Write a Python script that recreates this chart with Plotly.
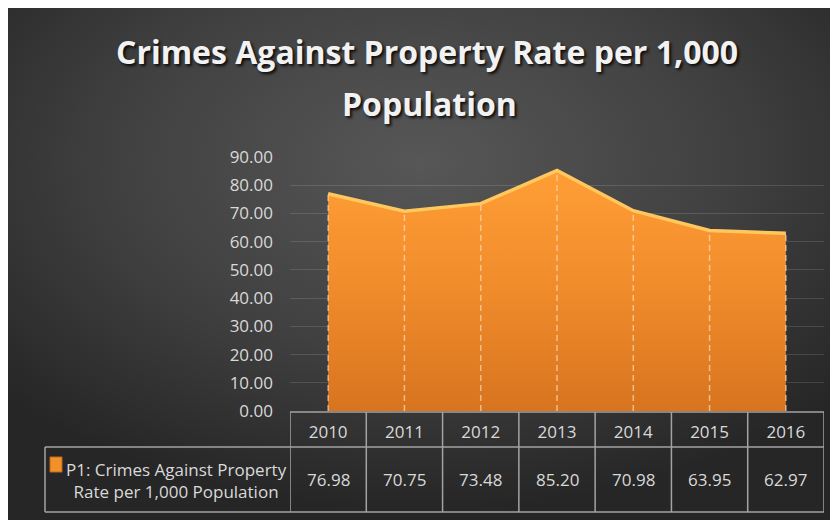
import base64
import plotly.graph_objects as go

# ---------------- data ----------------
years = ["2010", "2011", "2012", "2013", "2014", "2015", "2016"]
values = [76.98, 70.75, 73.48, 85.20, 70.98, 63.95, 62.97]
series_name = "P1: Crimes Against Property<br>Rate per 1,000 Population"
title_line1 = "Crimes Against Property Rate per 1,000"
title_line2 = "Population"
y_max = 90
y_step = 10

# ---------------- geometry (screen pixels of the target) ----------------
W, H = 838, 520
OX, OY = 8, 8          # page body margin offset of the rendered figure
plot_l, plot_r = 290, 824
plot_top, plot_bot = 157, 411
tbl_head_top, tbl_row_top, tbl_bot = 412, 447, 512
label_l = 45


def px(x):
    return (x - OX) / W


def py(y):
    return 1 - (y - OY) / H


FONT = "Open Sans, Noto Sans, sans-serif"
TXT = "#d9d9d9"
BORDER = "#a3a3a3"

# background radial gradient as svg image
svg = (
    "<svg xmlns='http://www.w3.org/2000/svg' width='827' height='513'>"
    "<defs><radialGradient id='g' cx='0.5' cy='0.3' r='0.68'>"
    "<stop offset='0' stop-color='#575757'/>"
    "<stop offset='0.55' stop-color='#404040'/>"
    "<stop offset='1' stop-color='#262626'/>"
    "</radialGradient></defs>"
    "<rect width='827' height='513' fill='url(#g)'/></svg>"
)
bg_uri = "data:image/svg+xml;base64," + base64.b64encode(svg.encode()).decode()

fig = go.Figure()

# area
fig.add_trace(
    go.Scatter(
        x=years,
        y=values,
        mode="lines",
        fill="tozeroy",
        fillgradient=dict(
            type="vertical",
            colorscale=[[0, "#d8741f"], [0.5, "#f08b2b"], [1, "#ff9e35"]],
        ),
        line=dict(color="#ffc85e", width=3.5),
        name=series_name,
        showlegend=False,
        hoverinfo="x+y",
    )
)

# drop lines
dx, dy = [], []
for yr, v in zip(years, values):
    dx += [yr, yr, None]
    dy += [0, v, None]
fig.add_trace(
    go.Scatter(
        x=dx,
        y=dy,
        mode="lines",
        line=dict(color="rgba(255,225,190,0.65)", width=1.5, dash="6px,4px"),
        showlegend=False,
        hoverinfo="skip",
    )
)

shapes = []
line_style = dict(color=BORDER, width=1.5)
n = len(years)
for yy in (tbl_head_top, tbl_row_top, tbl_bot):
    shapes.append(dict(type="line", xref="x", yref="paper", x0=-0.5, x1=n - 0.5,
                       y0=py(yy), y1=py(yy), line=line_style))
for yy in (tbl_row_top, tbl_bot):
    shapes.append(dict(type="line", xref="paper", yref="paper", x0=px(label_l), x1=px(plot_l),
                       y0=py(yy), y1=py(yy), line=line_style))
for i in range(n + 1):
    shapes.append(dict(type="line", xref="x", yref="paper", x0=i - 0.5, x1=i - 0.5,
                       y0=py(tbl_head_top), y1=py(tbl_bot), line=line_style))
shapes.append(dict(type="line", xref="paper", yref="paper", x0=px(label_l), x1=px(label_l),
                   y0=py(tbl_row_top), y1=py(tbl_bot), line=line_style))
# legend key
shapes.append(dict(type="rect", xref="paper", yref="paper", x0=px(50), x1=px(62),
                   y0=py(472), y1=py(457), fillcolor="#f2902a",
                   line=dict(color="#c0651a", width=1)))

annotations = []
row_c = (tbl_row_top + tbl_bot) / 2
for i, v in enumerate(values):
    annotations.append(dict(x=i, xref="x", y=py(row_c), yref="paper", text=f"{v:.2f}",
                            showarrow=False, font=dict(family=FONT, size=17, color=TXT),
                            xanchor="center", yanchor="middle"))
annotations.append(dict(x=px(176.5), xref="paper", y=py(row_c + 1), yref="paper", text=series_name,
                        showarrow=False, align="center",
                        font=dict(family=FONT, size=17, color=TXT),
                        xanchor="center", yanchor="middle"))
annotations.append(dict(x=px(429.5), xref="paper", y=py(103), yref="paper", text=title_line2,
                        showarrow=False,
                        font=dict(family=FONT, size=32, color="#f2f2f2", weight="bold",
                                  shadow="2px 2px 3px rgba(0,0,0,0.85)"),
                        xanchor="center", yanchor="middle"))

fig.update_layout(
    width=W,
    height=H,
    autosize=False,
    margin=dict(l=0, r=0, t=0, b=0, pad=0, autoexpand=False),
    paper_bgcolor="white",
    plot_bgcolor="rgba(0,0,0,0)",
    title=dict(
        text=title_line1,
        x=px(427), xanchor="center", xref="paper",
        y=py(53), yanchor="middle", yref="paper",
        font=dict(family=FONT, size=32, color="#f2f2f2", weight="bold",
                  shadow="2px 2px 3px rgba(0,0,0,0.85)"),
    ),
    images=[dict(source=bg_uri, xref="paper", yref="paper", x=px(8), y=py(7),
                 sizex=827 / W, sizey=513 / H, sizing="stretch",
                 xanchor="left", yanchor="top", layer="below")],
    xaxis=dict(
        domain=[px(plot_l), px(plot_r)],
        type="category",
        categoryorder="array",
        categoryarray=years,
        range=[-0.5, n - 0.5],
        showgrid=False,
        zeroline=False,
        showline=False,
        ticks="",
        automargin=False,
        ticklabelstandoff=9,
        tickfont=dict(family=FONT, size=17, color=TXT),
    ),
    yaxis=dict(
        domain=[py(plot_bot), py(plot_top)],
        range=[0, y_max],
        dtick=y_step,
        tick0=0,
        tickformat=".2f",
        showgrid=True,
        gridcolor="rgba(255,255,255,0.13)",
        gridwidth=1,
        zeroline=False,
        showline=False,
        ticks="",
        automargin=False,
        ticklabelstandoff=16,
        tickfont=dict(family=FONT, size=17, color=TXT),
    ),
    shapes=shapes,
    annotations=annotations,
    showlegend=False,
)

fig.write_html("out.html")
